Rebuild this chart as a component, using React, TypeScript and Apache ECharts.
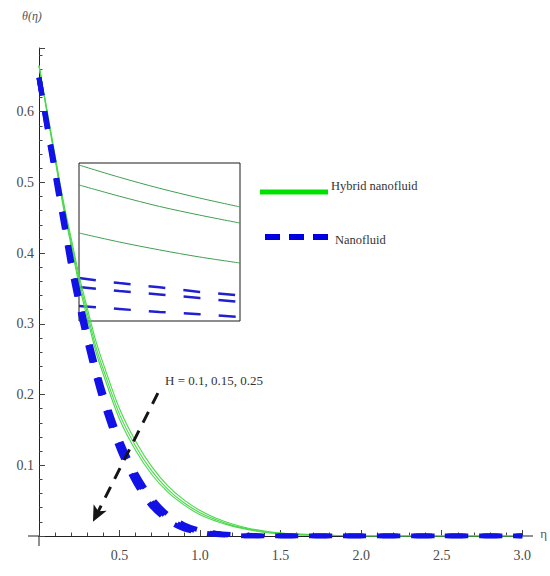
import React, { useEffect, useRef } from "react";
import * as echarts from "echarts";

// η grid shared by all main curves
const eta = [0, 0.05, 0.1, 0.15, 0.2, 0.25, 0.3, 0.35, 0.4, 0.5, 0.6, 0.7, 0.8, 0.9, 1.0, 1.1, 1.2, 1.3, 1.4, 1.5, 1.6, 1.8, 2.0, 2.5, 3.0];

// Hybrid nanofluid θ(η) for H = 0.1, 0.15, 0.25
const hybridH010 = [0.665, 0.602, 0.538, 0.475, 0.421, 0.367, 0.322, 0.278, 0.243, 0.18, 0.134, 0.098, 0.071, 0.051, 0.036, 0.025, 0.017, 0.011, 0.007, 0.004, 0.003, 0.001, 0, 0, 0];
const hybridH015 = [0.665, 0.6, 0.535, 0.47, 0.415, 0.36, 0.315, 0.27, 0.235, 0.172, 0.127, 0.092, 0.066, 0.047, 0.033, 0.023, 0.015, 0.01, 0.006, 0.004, 0.002, 0.001, 0, 0, 0];
const hybridH025 = [0.665, 0.598, 0.532, 0.466, 0.41, 0.354, 0.308, 0.263, 0.228, 0.165, 0.121, 0.087, 0.062, 0.044, 0.03, 0.021, 0.014, 0.009, 0.005, 0.003, 0.002, 0.001, 0, 0, 0];

// Nanofluid θ(η) for H = 0.1, 0.15, 0.25
const nanoH010 = [0.648, 0.583, 0.52, 0.456, 0.392, 0.338, 0.288, 0.243, 0.203, 0.138, 0.089, 0.054, 0.03, 0.016, 0.008, 0.004, 0.002, 0.001, 0, 0, 0, 0, 0, 0, 0];
const nanoH015 = [0.648, 0.58, 0.515, 0.45, 0.385, 0.33, 0.28, 0.235, 0.195, 0.13, 0.082, 0.048, 0.026, 0.013, 0.006, 0.003, 0.001, 0, 0, 0, 0, 0, 0, 0, 0];
const nanoH025 = [0.648, 0.577, 0.51, 0.444, 0.378, 0.322, 0.272, 0.227, 0.187, 0.122, 0.075, 0.042, 0.022, 0.01, 0.005, 0.002, 0.001, 0, 0, 0, 0, 0, 0, 0, 0];

// Inset (magnified view, relative units)
const insetX = [0, 0.25, 0.5, 0.75, 1];
const insetHybrid1 = [0.987, 0.91, 0.84, 0.778, 0.722];
const insetHybrid2 = [0.861, 0.79, 0.725, 0.67, 0.62];
const insetHybrid3 = [0.557, 0.5, 0.45, 0.405, 0.367];
const insetNano1 = [0.272, 0.24, 0.213, 0.184, 0.162];
const insetNano2 = [0.215, 0.19, 0.168, 0.145, 0.12];
const insetNano3 = [0.095, 0.076, 0.057, 0.043, 0.025];

// Annotation arrow (data coords)
const arrowFrom = [0.738, 0.202];
const arrowTo = [0.335, 0.02];

const legendLabels = ["Hybrid nanofluid", "Nanofluid"];
const annotationText = "H = 0.1, 0.15, 0.25";

const FONT = "serif";

const pairs = (xs: number[], ys: number[]) => xs.map((x, i) => [x, ys[i]]);

export default function App() {
  const ref = useRef<HTMLDivElement>(null);

  useEffect(() => {
    document.body.style.margin = "0";
    if (!ref.current) return;
    const chart = echarts.init(ref.current, undefined, { renderer: "svg" });

    const green = "#4cd84c";
    const blue = "#1212e6";
    const insetGreen = "#3f9f4f";

    const hybridSeries = [hybridH010, hybridH015, hybridH025].map((d, i) => ({
      type: "line",
      name: `Hybrid H${i}`,
      xAxisIndex: 0,
      yAxisIndex: 0,
      data: pairs(eta, d),
      showSymbol: false,
      smooth: 0.3,
      lineStyle: { color: green, width: 1.1 },
      z: 3,
    }));

    const nanoSeries = [nanoH010, nanoH015, nanoH025].map((d, i) => ({
      type: "line",
      name: `Nano H${i}`,
      xAxisIndex: 0,
      yAxisIndex: 0,
      data: pairs(eta, d),
      showSymbol: false,
      smooth: 0.3,
      lineStyle: { color: blue, width: 5, type: [18, 16], cap: "butt" },
      z: 4,
    }));

    const insetHybridSeries = [insetHybrid1, insetHybrid2, insetHybrid3].map((d, i) => ({
      type: "line",
      name: `Inset hybrid ${i}`,
      xAxisIndex: 1,
      yAxisIndex: 1,
      data: pairs(insetX, d),
      showSymbol: false,
      smooth: 0.3,
      lineStyle: { color: insetGreen, width: 1 },
      z: 2,
    }));

    const insetNanoSeries = [insetNano1, insetNano2, insetNano3].map((d, i) => ({
      type: "line",
      name: `Inset nano ${i}`,
      xAxisIndex: 1,
      yAxisIndex: 1,
      data: pairs(insetX, d),
      showSymbol: false,
      smooth: 0.3,
      lineStyle: { color: "#2020d0", width: 2.5, type: [17, 18], cap: "butt" },
      z: 2,
    }));

    // attach annotation arrow
    (hybridSeries[1] as any).markLine = {
      silent: true,
      animation: false,
      symbol: ["none", "arrow"],
      symbolSize: [11, 16],
      label: { show: false },
      lineStyle: { color: "#151515", width: 3, type: [12, 9] },
      data: [[{ coord: arrowFrom }, { coord: arrowTo }]],
    };

    const option: any = {
      animation: false,
      backgroundColor: "#ffffff",
      textStyle: { fontFamily: FONT },
      grid: [
        { left: 39, right: 27, top: 48, bottom: 40, show: false },
        { left: 79, top: 163, width: 161, height: 158, show: true, borderColor: "#1a1a1a", borderWidth: 1, backgroundColor: "transparent" },
      ],
      xAxis: [
        {
          type: "value",
          gridIndex: 0,
          min: 0,
          max: 3,
          interval: 0.5,
          name: "η",
          nameLocation: "end",
          nameGap: 18,
          nameTextStyle: { fontFamily: FONT, fontSize: 13, color: "#555", verticalAlign: "bottom", padding: [0, 0, -4, 0] },
          axisLine: { show: true, lineStyle: { color: "#222", width: 1 } },
          axisTick: { show: true, inside: true, length: 6, lineStyle: { color: "#444" } },
          minorTick: { show: true, splitNumber: 5, length: 3.5, lineStyle: { color: "#444" } },
          splitLine: { show: false },
          axisLabel: {
            fontFamily: FONT,
            fontSize: 14,
            color: "#4a4a4a",
            margin: 12,
            formatter: (v: number) => (v === 0 ? "" : v.toFixed(1)),
          },
        },
        { type: "value", gridIndex: 1, min: 0, max: 1, show: false },
      ],
      yAxis: [
        {
          type: "value",
          gridIndex: 0,
          min: 0,
          max: 0.69,
          interval: 0.1,
          axisLine: { show: true, onZero: true, lineStyle: { color: "#222", width: 1 } },
          axisTick: { show: true, inside: true, length: 6, lineStyle: { color: "#444" } },
          minorTick: { show: true, splitNumber: 5, length: 3.5, lineStyle: { color: "#444" } },
          splitLine: { show: false },
          axisLabel: {
            fontFamily: FONT,
            fontSize: 14,
            color: "#4a4a4a",
            margin: 5,
            showMaxLabel: false,
            formatter: (v: number) => (v === 0 ? "" : v.toFixed(1)),
          },
        },
        { type: "value", gridIndex: 1, min: 0, max: 1, show: false },
      ],
      series: [...insetHybridSeries, ...insetNanoSeries, ...hybridSeries, ...nanoSeries],
      graphic: [
        // small axis overhangs as in the original
        { type: "line", shape: { x1: 523, y1: 536, x2: 533, y2: 536 }, style: { stroke: "#222", lineWidth: 1 } },
        { type: "line", shape: { x1: 28, y1: 536, x2: 39, y2: 536 }, style: { stroke: "#222", lineWidth: 1 } },
        { type: "line", shape: { x1: 39, y1: 536, x2: 39, y2: 546 }, style: { stroke: "#222", lineWidth: 1 } },
        {
          type: "text",
          x: 22,
          y: 10,
          style: { text: "θ(η)", fontFamily: FONT, fontStyle: "italic", fontSize: 12, fill: "#555" },
        },
        {
          type: "line",
          shape: { x1: 260, y1: 192, x2: 328, y2: 192 },
          style: { stroke: "#00e000", lineWidth: 5 },
        },
        {
          type: "text",
          x: 331,
          y: 186,
          style: { text: legendLabels[0], fontFamily: FONT, fontSize: 12.5, fill: "#333", verticalAlign: "middle" },
        },
        {
          type: "line",
          shape: { x1: 265, y1: 237, x2: 330, y2: 237 },
          style: { stroke: "#0000e0", lineWidth: 6, lineDash: [15, 9] },
        },
        {
          type: "text",
          x: 335,
          y: 240,
          style: { text: legendLabels[1], fontFamily: FONT, fontSize: 12.5, fill: "#333", verticalAlign: "middle" },
        },
        {
          type: "text",
          x: 165,
          y: 380,
          style: { text: annotationText, fontFamily: FONT, fontSize: 13, fill: "#333", verticalAlign: "middle" },
        },
      ],
    };

    chart.setOption(option);
    return () => chart.dispose();
  }, []);

  return <div ref={ref} style={{ width: 550, height: 576 }} />;
}
